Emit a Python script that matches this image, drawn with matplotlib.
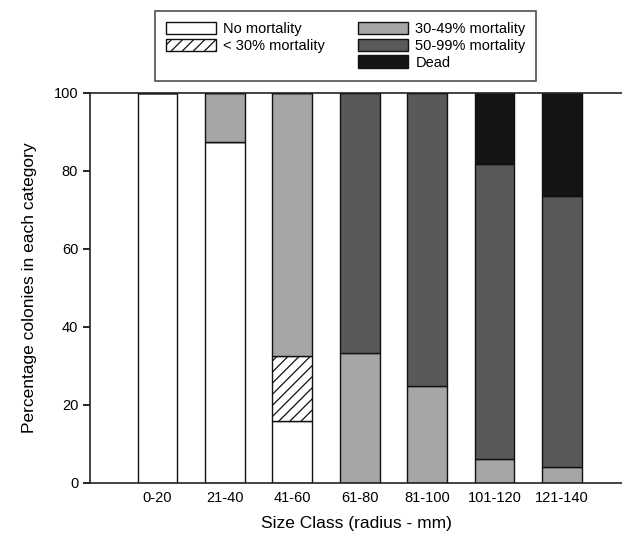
import numpy as np
import matplotlib.pyplot as plt
from matplotlib.patches import Patch

plt.rcParams['font.family'] = ['Liberation Sans', 'DejaVu Sans']
plt.rcParams['hatch.linewidth'] = 0.9

size_classes = ['0-20', '21-40', '41-60', '61-80', '81-100', '101-120', '121-140']
no_mort = [100, 87.5, 16, 0, 0, 0, 0]
lt30 = [0, 0, 16.5, 0, 0, 0, 0]
m30_49 = [0, 12.5, 67.5, 33.3, 25, 6.2, 4]
m50_99 = [0, 0, 0, 66.7, 75, 75.7, 69.7]
dead = [0, 0, 0, 0, 0, 18.1, 26.3]

series = [
    ('No mortality', no_mort, 'white', None),
    ('< 30% mortality', lt30, 'white', '///'),
    ('30-49% mortality', m30_49, '#a6a6a6', None),
    ('50-99% mortality', m50_99, '#595959', None),
    ('Dead', dead, '#141414', None),
]

fig = plt.figure(figsize=(6.22, 5.39), dpi=100)
ax = fig.add_axes([90/622, 56/539, 1 - 90/622, 390/539])

x = np.arange(len(size_classes))
bottom = np.zeros(len(x))
for name, vals, col, hatch in series:
    vals = np.array(vals, dtype=float)
    ax.bar(x, vals, 0.59, bottom=bottom, color=col, edgecolor='#111111',
           linewidth=1.0, hatch=hatch)
    bottom += vals

ax.set_xlim(-1, 6.89)
ax.set_ylim(0, 100)
ax.set_yticks([0, 20, 40, 60, 80, 100])
ax.set_xticks(x)
ax.set_xticklabels(size_classes)
ax.tick_params(axis='x', length=0, pad=6, labelsize=10.5)
ax.tick_params(axis='y', length=5, width=1.2, direction='out', labelsize=10.5)
for s in ['left', 'top', 'bottom']:
    ax.spines[s].set_linewidth(1.2)
    ax.spines[s].set_color('#222222')
ax.spines['right'].set_visible(False)

ax.set_xlabel('Size Class (radius - mm)', fontsize=12.5, labelpad=8)
ax.set_ylabel('Percentage colonies in each category', fontsize=12.5, labelpad=12)

# legend: two entries in the first column, three in the second
handles = []
labels = []
for name, vals, col, hatch in series[:2]:
    handles.append(Patch(facecolor=col, edgecolor='#111111', hatch=hatch, linewidth=1.0))
    labels.append(name)
handles.append(Patch(facecolor='none', edgecolor='none'))
labels.append('')
for name, vals, col, hatch in series[2:]:
    handles.append(Patch(facecolor=col, edgecolor='#111111', hatch=hatch, linewidth=1.0))
    labels.append(name)

leg = fig.legend(handles, labels, ncol=2, loc='center', bbox_to_anchor=(0.556, 0.915),
                 fontsize=10.5, frameon=True, fancybox=False, edgecolor='#222222',
                 handlelength=3.4, handleheight=0.9, handletextpad=0.5,
                 columnspacing=2.3, labelspacing=0.18, borderpad=0.75)
leg.get_frame().set_linewidth(1.2)

fig.savefig('out.png', dpi=100)
